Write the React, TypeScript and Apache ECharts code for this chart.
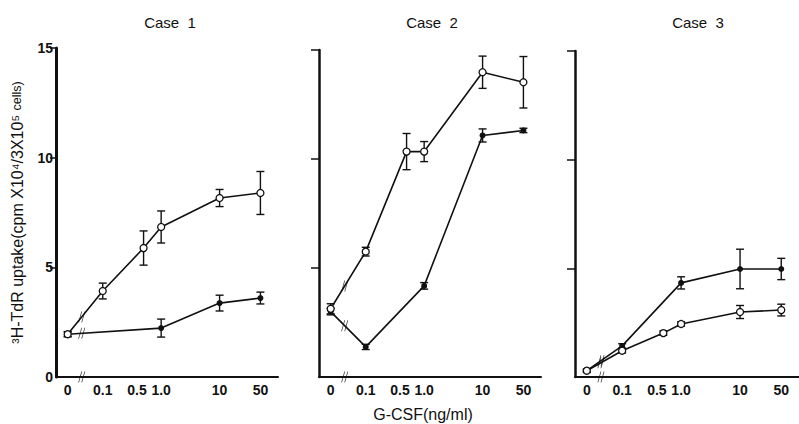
import React, { useEffect, useRef } from "react";
import * as echarts from "echarts";

const doses = [0, 0.1, 0.5, 1, 10, 50];
const doseLabels = ["0", "0.1", "0.5", "1.0", "10", "50"];
const caseTitles = ["Case  1", "Case  2", "Case  3"];
const yTickLabels = ["0", "5", "10", "15"];

// open circles (null = no point)
const open1 = [1.95, 3.92, 5.88, 6.84, 8.16, 8.39];
const openErr1 = [0.12, 0.36, 0.78, 0.73, 0.39, 0.98];
const filled1 = [1.95, null, null, 2.23, 3.37, 3.6];
const filledErr1 = [0.1, null, null, 0.41, 0.36, 0.27];

const open2 = [3.13, 5.75, 10.34, 10.34, 13.98, 13.52];
const openErr2 = [0.23, 0.2, 0.83, 0.46, 0.74, 1.18];
const filled2 = [3.0, 1.38, null, 4.18, 11.08, 11.31];
const filledErr2 = [0.15, 0.12, null, 0.15, 0.3, 0.1];

const open3 = [0.29, 1.21, 2.02, 2.44, 2.99, 3.08];
const openErr3 = [0.08, 0.1, 0.1, 0.1, 0.3, 0.27];
const filled3 = [0.29, 1.43, null, 4.33, 4.97, 4.97];
const filledErr3 = [0.05, 0.1, null, 0.28, 0.91, 0.49];

const panels = [
  { open: open1, openErr: openErr1, filled: filled1, filledErr: filledErr1 },
  { open: open2, openErr: openErr2, filled: filled2, filledErr: filledErr2 },
  { open: open3, openErr: openErr3, filled: filled3, filledErr: filledErr3 },
];

const ZERO_X = -1.6;
const BREAK_X = -1.36;
const X_MIN = -1.8;
const X_MAX = 2.0;
const xOf = (d: number) => (d === 0 ? ZERO_X : Math.log10(d));

const SANS = "'Liberation Sans', Arial, sans-serif";
const INK = "#111";
const BREAK_SYMBOL =
  "path://M0,12 L4,0 L5,0 L1,12 Z M4,12 L8,0 L9,0 L5,12 Z";

const gridLayout = [
  { left: 56, width: 222, top: 48, height: 329 },
  { left: 319, width: 222, top: 50, height: 327 },
  { left: 575, width: 224, top: 51, height: 326 },
];
const titleX = [170, 432, 698];

function pts(vals: (number | null)[]) {
  const out: number[][] = [];
  doses.forEach((d, j) => {
    const v = vals[j];
    if (v !== null && v !== undefined) out.push([xOf(d), v]);
  });
  return out;
}
function errPts(vals: (number | null)[], errs: (number | null)[]) {
  const out: number[][] = [];
  doses.forEach((d, j) => {
    const v = vals[j];
    const e = errs[j];
    if (v !== null && v !== undefined && e !== null && e !== undefined)
      out.push([xOf(d), v, e]);
  });
  return out;
}
function breakOnLine(p: number[][]) {
  const a = p[0];
  const b = p[1];
  const t = (BREAK_X - a[0]) / (b[0] - a[0]);
  return [BREAK_X, a[1] + t * (b[1] - a[1])];
}

const errRender = (params: any, api: any) => {
  const x = api.value(0);
  const y = api.value(1);
  const e = api.value(2);
  const t = api.coord([x, y + e]);
  const b = api.coord([x, y - e]);
  const w = 4;
  const style = { stroke: INK, lineWidth: 1.4 };
  return {
    type: "group",
    children: [
      { type: "line", shape: { x1: t[0], y1: t[1], x2: b[0], y2: b[1] }, style },
      { type: "line", shape: { x1: t[0] - w, y1: t[1], x2: t[0] + w, y2: t[1] }, style },
      { type: "line", shape: { x1: b[0] - w, y1: b[1], x2: b[0] + w, y2: b[1] }, style },
    ],
  };
};

const tickText = { color: INK, fontFamily: SANS, fontSize: 14, fontWeight: "bold" as const };

export default function App() {
  const ref = useRef<HTMLDivElement>(null);
  useEffect(() => {
    if (!ref.current) return;
    const chart = echarts.init(ref.current, null, { renderer: "svg" });

    const grid = gridLayout.map((g) => ({ ...g, containLabel: false }));
    const xAxis = gridLayout.map((_, i) => ({
      type: "value",
      gridIndex: i,
      min: X_MIN,
      max: X_MAX,
      axisLine: { onZero: false, lineStyle: { color: INK, width: 2 } },
      axisTick: { show: false },
      splitLine: { show: false },
      axisLabel: {
        customValues: doses.map(xOf),
        formatter: (v: number) => {
          const k = doses.findIndex((d) => Math.abs(xOf(d) - v) < 1e-6);
          if (k < 0) return "";
          return k === 2 ? `{l|${doseLabels[k]}}` : `{n|${doseLabels[k]}}`;
        },
        ...tickText,
        margin: 6,
        rich: {
          n: { ...tickText },
          l: { ...tickText, padding: [0, 13, 0, 0] },
        },
      },
    }));
    const yAxis = gridLayout.map((_, i) => ({
      type: "value",
      gridIndex: i,
      min: 0,
      max: 15,
      interval: 5,
      axisLine: { show: true, onZero: false, lineStyle: { color: INK, width: i === 0 ? 3 : 2.5 } },
      axisTick: {
        show: true,
        customValues: [5, 10, 15],
        length: i === 0 ? 6 : 8,
        lineStyle: { color: INK, width: 1.5 },
      },
      splitLine: { show: false },
      axisLabel: {
        show: i === 0,
        ...tickText,
        margin: 3,
        formatter: (v: number) => yTickLabels[Math.round(v / 5)] ?? "",
      },
      name: i === 0 ? "{a|³H-TdR uptake(cpm X10⁴/3X10⁵ }{b|cells)}" : "",
      nameLocation: "middle",
      nameRotate: 90,
      nameGap: 31,
      nameTextStyle: {
        rich: {
          a: { fontFamily: SANS, fontSize: 16, color: INK },
          b: { fontFamily: SANS, fontSize: 12.5, color: INK },
        },
      },
    }));

    const series: any[] = [];
    panels.forEach((p, i) => {
      const fp = pts(p.filled);
      const op = pts(p.open);
      series.push({
        type: "custom",
        xAxisIndex: i,
        yAxisIndex: i,
        renderItem: errRender,
        encode: { x: 0, y: 1 },
        data: errPts(p.filled, p.filledErr),
        z: 2,
      });
      series.push({
        type: "line",
        xAxisIndex: i,
        yAxisIndex: i,
        data: fp,
        symbol: "circle",
        symbolSize: 6,
        itemStyle: { color: INK },
        lineStyle: { color: INK, width: 1.6 },
        z: 3,
      });
      series.push({
        type: "custom",
        xAxisIndex: i,
        yAxisIndex: i,
        renderItem: errRender,
        encode: { x: 0, y: 1 },
        data: errPts(p.open, p.openErr),
        z: 4,
      });
      series.push({
        type: "line",
        xAxisIndex: i,
        yAxisIndex: i,
        data: op,
        symbol: "circle",
        symbolSize: 7,
        itemStyle: { color: "#fff", borderColor: INK, borderWidth: 1.3 },
        lineStyle: { color: INK, width: 1.6 },
        z: 5,
      });
      series.push({
        type: "scatter",
        xAxisIndex: i,
        yAxisIndex: i,
        data: [breakOnLine(fp), breakOnLine(op), [BREAK_X, 0]],
        symbol: BREAK_SYMBOL,
        symbolSize: [7, 11],
        itemStyle: { color: INK },
        z: 6,
      });
    });

    const graphic: any[] = caseTitles.map((t, i) => ({
      type: "text",
      x: titleX[i],
      y: 22,
      style: {
        text: t,
        textAlign: "center",
        textVerticalAlign: "middle",
        fontFamily: SANS,
        fontSize: 15,
        fill: INK,
      },
    }));
    graphic.push({
      type: "text",
      x: 423,
      y: 414,
      style: {
        text: "G-CSF(ng/ml)",
        textAlign: "center",
        textVerticalAlign: "middle",
        fontFamily: SANS,
        fontSize: 16,
        fill: INK,
      },
    });

    chart.setOption({
      animation: false,
      backgroundColor: "#fff",
      grid,
      xAxis,
      yAxis,
      series,
      graphic,
    });
    return () => chart.dispose();
  }, []);
  return (
    <div
      ref={ref}
      style={{ position: "fixed", left: 0, top: 0, width: 799, height: 424 }}
    />
  );
}
